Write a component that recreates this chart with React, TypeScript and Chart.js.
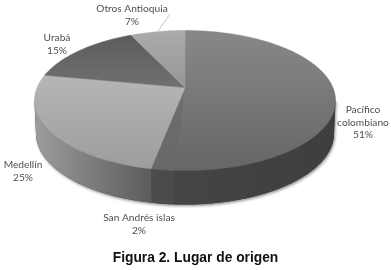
import React, { useEffect, useRef } from "react";
import { Chart, registerables } from "chart.js";

Chart.register(...registerables);

const categories = ["Pacífico colombiano", "San Andrés islas", "Medellín", "Urabá", "Otros Antioquia"];
const shares = [51, 2, 25, 15, 7];
const labelLines = [["Pacífico", "colombiano", "51%"], ["San Andrés islas", "2%"], ["Medellín", "25%"], ["Urabá", "15%"], ["Otros Antioquia", "7%"]];
const labelAnchors = [[363, 110], [139, 218], [23, 165], [57, 38], [132, 9]];
const faceTop = ["#888888", "#6e6e6e", "#b6b6b6", "#5c5c5c", "#ababab"];
const faceBottom = ["#666666", "#686868", "#9d9d9d", "#707070", "#969696"];
const wallLeft = ["#454545", "#4c4c4c", "#9c9c9c", "#777777", "#888888"];
const wallRight = ["#3e3e3e", "#4a4a4a", "#5c5c5c", "#777777", "#888888"];
const titleText = "Figura 2. Lugar de origen";

const CX = 185;
const CY = 87.5;
const A = 147.9;
const B = 67.6;
const K = 0.186;
const DEPTH = 34;

function top(t: number): [number, number] {
  const w = 1 - K * Math.sin(t);
  return [CX + (A * Math.cos(t)) / w, CY + (B * Math.sin(t)) / w];
}
function bottom(t: number): [number, number] {
  const [x, y] = top(t);
  return [CX + (x - CX) * 0.99, y + DEPTH - 3 * (1 - Math.sin(t)) * 0.5];
}
function span(a: number, b: number): number[] {
  const n = Math.max(2, Math.ceil(Math.abs(b - a) / 0.02));
  const out: number[] = [];
  for (let i = 0; i <= n; i++) out.push(a + ((b - a) * i) / n);
  return out;
}

const pie3d = {
  id: "pie3d",
  beforeDatasetsDraw(chart: any) {
    const ctx: CanvasRenderingContext2D = chart.ctx;
    const arcs = chart.getDatasetMeta(0).data;
    const tMin = Math.asin(K);
    const tMax = Math.PI - tMin;
    ctx.save();

    // soft shadow under the drum
    ctx.save();
    ctx.shadowColor = "rgba(0,0,0,0.45)";
    ctx.shadowBlur = 3;
    ctx.shadowOffsetX = 1;
    ctx.shadowOffsetY = 1.5;
    ctx.fillStyle = "#444444";
    ctx.beginPath();
    span(tMin, tMax).forEach((t, i) => {
      const [x, y] = bottom(t);
      if (i === 0) ctx.moveTo(x, y);
      else ctx.lineTo(x, y);
    });
    ctx.lineTo(...top(tMax));
    ctx.lineTo(...top(tMin));
    ctx.closePath();
    ctx.fill();
    ctx.restore();

    // side wall of every slice
    arcs.forEach((arc: any, i: number) => {
      const a = Math.max(arc.startAngle, tMin);
      const b = Math.min(arc.endAngle, tMax);
      if (b <= a) return;
      const ts = span(a, b);
      const xa = top(a)[0];
      const xb = top(b)[0];
      const g = ctx.createLinearGradient(Math.max(xa, xb), 0, Math.min(xa, xb), 0);
      g.addColorStop(0, wallRight[i]);
      g.addColorStop(1, wallLeft[i]);
      ctx.fillStyle = g;
      ctx.beginPath();
      ts.forEach((t, j) => {
        const [x, y] = top(t);
        if (j === 0) ctx.moveTo(x, y);
        else ctx.lineTo(x, y);
      });
      ts.slice().reverse().forEach((t) => ctx.lineTo(...bottom(t)));
      ctx.closePath();
      ctx.fill();
    });

    // top face of every slice
    arcs.forEach((arc: any, i: number) => {
      const ts = span(arc.startAngle, arc.endAngle);
      const ys = ts.map((t) => top(t)[1]).concat(CY);
      const g = ctx.createLinearGradient(0, Math.min(...ys), 0, Math.max(...ys));
      g.addColorStop(0, faceTop[i]);
      g.addColorStop(1, faceBottom[i]);
      ctx.fillStyle = g;
      ctx.beginPath();
      ctx.moveTo(CX, CY);
      ts.forEach((t) => ctx.lineTo(...top(t)));
      ctx.closePath();
      ctx.fill();
      ctx.strokeStyle = g;
      ctx.lineWidth = 0.5;
      ctx.stroke();
    });

    // leader line of the small top slice
    ctx.strokeStyle = "#b8b8b8";
    ctx.lineWidth = 0.8;
    ctx.beginPath();
    ctx.moveTo(158, 31);
    ctx.lineTo(170, 14);
    ctx.stroke();

    // data labels
    ctx.fillStyle = "#505050";
    ctx.font = "10.2px Lato";
    ctx.textAlign = "center";
    ctx.textBaseline = "middle";
    labelLines.forEach((lines, i) => {
      lines.forEach((line, j) => ctx.fillText(line, labelAnchors[i][0], labelAnchors[i][1] + j * 12.4));
    });
    ctx.restore();
    return false;
  },
};

export default function App() {
  const ref = useRef<HTMLCanvasElement>(null);
  useEffect(() => {
    const chart = new Chart(ref.current!, {
      type: "pie",
      data: { labels: categories, datasets: [{ data: shares, borderWidth: 0, backgroundColor: faceTop }] },
      options: {
        animation: false,
        responsive: false,
        layout: { padding: 0 },
        plugins: {
          legend: { display: false },
          tooltip: { enabled: false },
          title: {
            display: true,
            text: titleText,
            position: "bottom",
            color: "#111111",
            font: { family: "Liberation Sans", size: 13.8, weight: "bold" },
            padding: { top: 0, bottom: 4 },
          },
        },
      },
      plugins: [pie3d],
    } as any);
    return () => chart.destroy();
  }, []);
  return (
    <div style={{ position: "fixed", left: 0, top: 0, width: 391, height: 270, background: "#fff" }}>
      <canvas ref={ref} width={391} height={270} style={{ display: "block", filter: "blur(0.3px)" }} />
    </div>
  );
}
